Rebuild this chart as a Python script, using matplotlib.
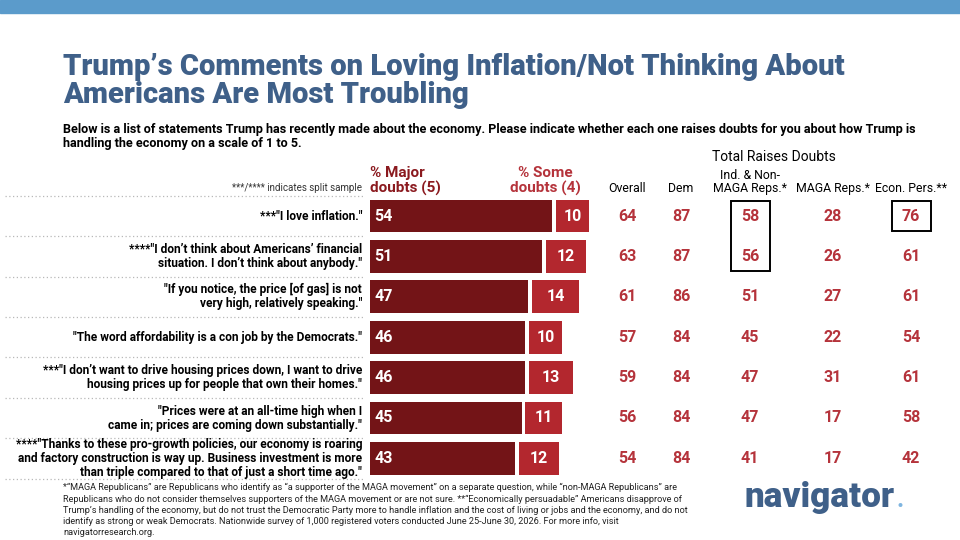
import numpy as np
import matplotlib.pyplot as plt
import matplotlib.transforms as mtransforms
from matplotlib.patches import Rectangle

plt.rcParams['font.family'] = ['Roboto', 'DejaVu Sans']

# ---------------- data ----------------
statements = [
    '***"I love inflation."',
    '****"I don\u2019t think about Americans\u2019 financial\nsituation. I don\u2019t think about anybody."',
    '"If you notice, the price [of gas] is not\nvery high, relatively speaking."',
    '"The word affordability is a con job by the Democrats."',
    '***"I don\u2019t want to drive housing prices down, I want to drive\nhousing prices up for people that own their homes."',
    '"Prices were at an all-time high when I\ncame in; prices are coming down substantially."',
    '****"Thanks to these pro-growth policies, our economy is roaring\nand factory construction is way up. Business investment is more\nthan triple compared to that of just a short time ago."',
]
major_doubts = [54, 51, 47, 46, 46, 45, 43]
some_doubts = [10, 12, 14, 10, 13, 11, 12]

col_headers = ['Overall', 'Dem', 'Ind. & Non-\nMAGA Reps.*', 'MAGA Reps.*', 'Econ. Pers.**']
overall = [64, 63, 61, 57, 59, 56, 54]
dem = [87, 87, 86, 84, 84, 84, 84]
ind_nonmaga = [58, 56, 51, 45, 47, 47, 41]
maga = [28, 26, 27, 22, 31, 17, 17]
econ_pers = [76, 61, 61, 54, 61, 58, 42]
table_cols = [overall, dem, ind_nonmaga, maga, econ_pers]

# colours
navy = '#3F6089'
dark_red = '#731417'
red = '#B3272E'
num_red = '#B5333B'

W, H = 960, 540
def fx(px): return px / W
def fy(py): return 1 - py / H

fig = plt.figure(figsize=(9.6, 5.4), dpi=100)
renderer = fig.canvas.get_renderer()

def fit(t, target_px):
    # shrink/grow a text so its widest line is target_px wide
    w = t.get_window_extent(renderer).width
    t.set_fontsize(t.get_fontsize() * target_px / w)
    return t.get_fontsize()

# top band
fig.patches.append(Rectangle((0, fy(13)), 1, 13 / H, transform=fig.transFigure,
                             color='#5B9BCB', zorder=0))

# title + question
title = fig.text(fx(63), fy(53), 'Trump\u2019s Comments on Loving Inflation/Not Thinking About\nAmericans Are Most Troubling',
                 fontsize=20, fontweight='black', color=navy, va='top', linespacing=1.0)
fit(title, 782)
sub = fig.text(fx(63), fy(123), 'Below is a list of statements Trump has recently made about the economy. Please indicate whether each one raises doubts for you about how Trump is\nhandling the economy on a scale of 1 to 5.',
               fontsize=9, fontweight='bold', color='black', va='top', linespacing=1.15)
fit(sub, 852)

# ---------------- bars ----------------
row_top, row_step = 216, 40.4
n = len(statements)
ax_top = row_top - row_step / 2
ax_bot = row_top + row_step * (n - 0.5)
ax = fig.add_axes([fx(370), fy(ax_bot), fx(590), (ax_bot - ax_top) / H])
ax.set_xlim(0, 590 / 3.37)
ax.set_ylim(n - 0.5, -0.5)
ax.axis('off')

y = np.arange(n)
major = np.array(major_doubts)
some = np.array(some_doubts)
gap = 1.1
ax.barh(y, major, height=0.81, color=dark_red)
ax.barh(y, some, left=major + gap, height=0.81, color=red)
for i in range(n):
    ax.text(1.3, i, str(major[i]), color='white', fontsize=11.5, fontweight='bold',
            ha='left', va='center')
    ax.text(major[i] + gap + some[i] / 2, i, str(some[i]), color='white', fontsize=11.5,
            fontweight='bold', ha='center', va='center')

# blended: figure x, data y
trans = mtransforms.blended_transform_factory(fig.transFigure, ax.transData)

# row labels and dotted separators
labels = []
for i, lab in enumerate(statements):
    labels.append(ax.text(fx(362), i, lab, transform=trans, ha='right', va='center',
                          fontsize=9, fontweight='bold', linespacing=1.1, clip_on=False))
lab_size = fit(labels[-1], 347)
for t in labels:
    t.set_fontsize(lab_size)
for yy in np.arange(-0.5, n, 1.0):
    ax.plot([fx(5), fx(365)], [yy, yy], transform=trans, color='#B8B8B8', lw=0.9,
            linestyle=(0, (1, 2)), clip_on=False)

# bar headers
fig.text(fx(370), fy(181), '% Major\ndoubts (5)', ha='left', va='center', fontsize=11,
         fontweight='bold', color='#8B1A1F', linespacing=1.05)
fig.text(fx(545), fy(181), '% Some\ndoubts (4)', ha='center', va='center', fontsize=11,
         fontweight='bold', color=num_red, linespacing=1.05)
fig.text(fx(362), fy(188), '***/**** indicates split sample', ha='right', va='center',
         fontsize=7, color='#333333')

# ---------------- table columns ----------------
col_x = [627, 681, 750, 833, 911]
fig.text(fx(774), fy(157), 'Total Raises Doubts', ha='center', va='center', fontsize=10,
         color='black')
for cx, head, vals in zip(col_x, col_headers, table_cols):
    fig.text(fx(cx), fy(192), head, ha='center', va='baseline', fontsize=8.8,
             color='black', linespacing=1.05)
    for i, v in enumerate(vals):
        ax.text(fx(cx), i, str(v), transform=trans, ha='center', va='center',
                fontsize=11.5, fontweight='bold', color=num_red, clip_on=False)

# highlight boxes
ax.add_patch(Rectangle((fx(730.5), -0.38), fx(39), 1.75, transform=trans, fill=False,
                       edgecolor='black', lw=1.4, clip_on=False))
ax.add_patch(Rectangle((fx(891.5), -0.38), fx(39), 0.76, transform=trans, fill=False,
                       edgecolor='black', lw=1.4, clip_on=False))

# ---------------- footnote + logo ----------------
footnote = ('*\u201cMAGA Republicans\u201d are Republicans who identify as \u201ca supporter of the MAGA movement\u201d on a separate question, while \u201cnon-MAGA Republicans\u201d are\n'
            'Republicans who do not consider themselves supporters of the MAGA movement or are not sure. **\u201cEconomically persuadable\u201d Americans disapprove of\n'
            'Trump\u2019s handling of the economy, but do not trust the Democratic Party more to handle inflation and the cost of living or jobs and the economy, and do not\n'
            'identify as strong or weak Democrats. Nationwide survey of 1,000 registered voters conducted June 25-June 30, 2026. For more info, visit\n'
            'navigatorresearch.org.')
fn = fig.text(fx(63), fy(483), footnote, ha='left', va='top', fontsize=6.5, color='#222222',
              linespacing=1.3)
fit(fn, 620)

logo = fig.text(fx(745), fy(507), 'navigator', ha='left', va='baseline', fontsize=22,
                fontweight='black', color=navy)
fit(logo, 150)
fig.text(fx(896), fy(507), '.', ha='left', va='baseline', fontsize=18,
         fontweight='bold', color='#7FB5E0')

fig.savefig('out.png', dpi=100)
